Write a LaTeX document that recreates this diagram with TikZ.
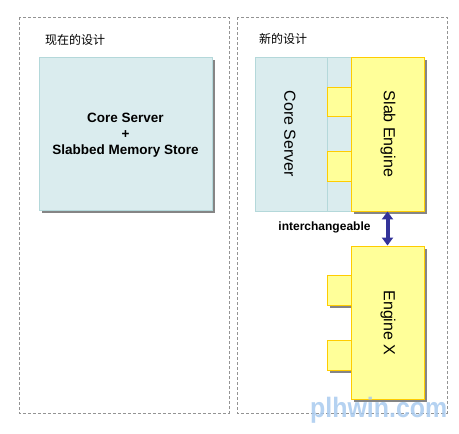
\documentclass[tikz,border=0pt]{standalone}
\usepackage{fontspec}
\setmainfont{Liberation Sans}
\newfontfamily\cjk{Noto Sans CJK SC}
\usetikzlibrary{arrows.meta,shadows}
\definecolor{bluefill}{HTML}{DAECEE}
\definecolor{blueline}{HTML}{B4D8DA}
\definecolor{yellowfill}{HTML}{FFFF99}
\definecolor{yellowline}{HTML}{FFCC00}
\definecolor{arrowcol}{HTML}{333399}
\definecolor{wmark}{HTML}{A8CAEE}
\definecolor{shadowcol}{HTML}{858585}
\tikzset{
  frame/.style={draw=gray!85, dashed, dash pattern=on 3pt off 2pt, line width=0.8pt},
  shadowed/.style={general shadow={fill=shadowcol, shadow xshift=3pt, shadow yshift=-3pt}},
  bluebox/.style={draw=blueline, fill=bluefill, line width=0.9pt, inner sep=0pt, rectangle},
  yellowbox/.style={draw=yellowline, fill=yellowfill, line width=0.9pt, inner sep=0pt, rectangle},
  title/.style={font=\cjk\fontsize{12}{14}\selectfont, anchor=west, inner sep=0pt},
  boldlabel/.style={font=\bfseries\fontsize{13.5}{17}\selectfont, align=center},
  rotlabel/.style={font=\fontsize{16}{18}\selectfont, rotate=-90, inner sep=0pt},
}
\begin{document}
\begin{tikzpicture}[x=1pt,y=-1pt]
\useasboundingbox (0,0) rectangle (459,434);
% frames
\draw[frame] (19,17) rectangle (229,413);
\draw[frame] (237,17) rectangle (447,413);
\node[title] (t1) at (45,40) {现在的设计};
\node[title] (t2) at (259,39) {新的设计};
% left box
\node[bluebox, shadowed, minimum width=173pt, minimum height=153pt] (old) at (125.5,133.5) {};
\node[boldlabel] (oldtxt) at (125.5,135) {Core Server\\[-1pt]+\\[-1pt]Slabbed Memory Store};
% right: core server
\node[bluebox, minimum width=96pt, minimum height=154pt] (core) at (303,134) {};
\draw[blueline, line width=0.9pt] (327,57) -- (327,211);
\node[rotlabel] (coretxt) at (290,134) {Core Server};
% tabs for slab engine
\node[yellowbox, minimum width=24pt, minimum height=29pt] (st1) at (339,101.5) {};
\node[yellowbox, minimum width=24pt, minimum height=30pt] (st2) at (339,166) {};
% slab engine
\node[yellowbox, shadowed, minimum width=73pt, minimum height=154pt] (slab) at (387.5,134) {};
\node[rotlabel] (slabtxt) at (388,134) {Slab Engine};
% engine X tabs
\node[yellowbox, shadowed, minimum width=24pt, minimum height=30pt] (xt1) at (339,290) {};
\node[yellowbox, shadowed, minimum width=24pt, minimum height=30pt] (xt2) at (339,355) {};
% engine X
\node[yellowbox, shadowed, minimum width=73pt, minimum height=153pt] (engx) at (387.5,322.5) {};
\node[rotlabel] (engxtxt) at (388,323) {Engine X};
% arrow
\draw[arrowcol, line width=4pt, {Triangle[width=11pt,length=8pt]}-{Triangle[width=11pt,length=8pt]}] (slab.south) -- (engx.north);
\node[font=\bfseries\fontsize{12}{14}\selectfont] (inter) at (324.5,227) {interchangeable};
% watermark
\node[anchor=base west, inner sep=0pt, text=wmark, opacity=0.85, font=\bfseries\fontsize{28}{30}\selectfont] (wm) at (310,417) {\scalebox{0.89}[1]{plhwin.com}};
\end{tikzpicture}
\end{document}
